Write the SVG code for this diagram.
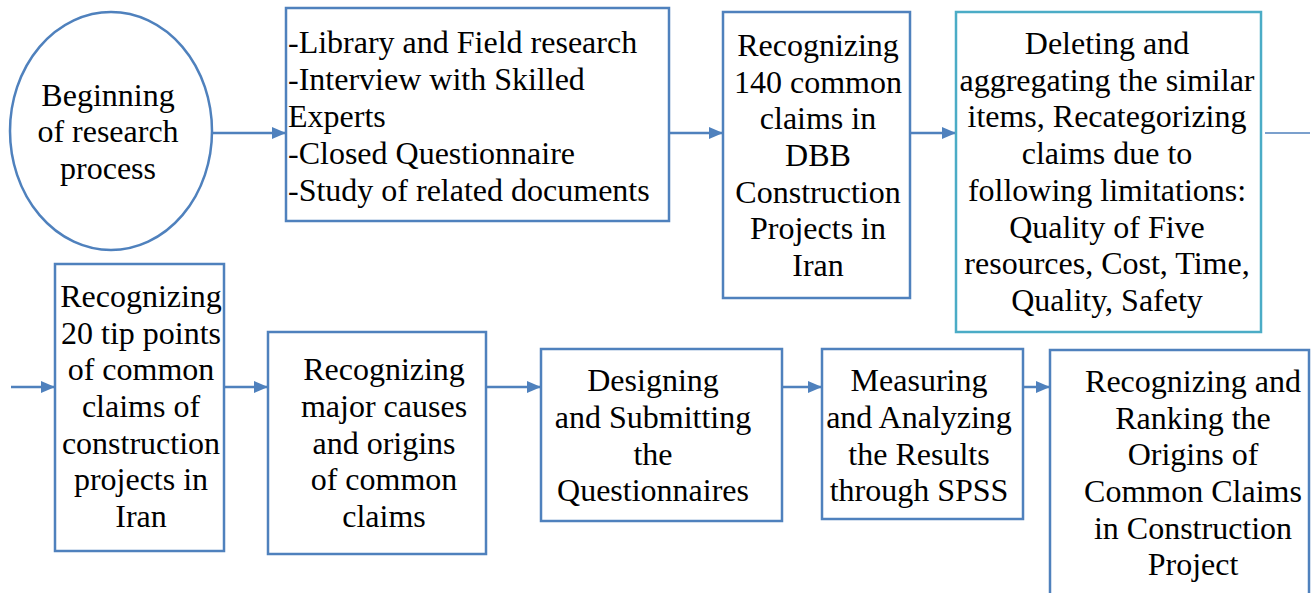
<svg xmlns="http://www.w3.org/2000/svg" width="1316" height="593" viewBox="0 0 1316 593">
  <style>
    .box { fill: #ffffff; stroke: #4f81bd; stroke-width: 2.5; }
    .box-alt { fill: #ffffff; stroke: #4bacc6; stroke-width: 2.5; }
    .mid { text-anchor: middle; }
    .edge { stroke: #4f81bd; stroke-width: 2.5; fill: none; }
    .edge-thin { stroke: #4f81bd; stroke-width: 1.5; fill: none; }
  </style>
  <defs>
    <marker id="arrow" markerWidth="14" markerHeight="12" refX="14" refY="6" orient="auto" markerUnits="userSpaceOnUse">
      <path d="M0,0 L14,6 L0,12 Z" fill="#4f81bd"/>
    </marker>
  </defs>

  <rect width="1316" height="593" fill="#ffffff"/>

  <!-- connectors -->
  <g id="connectors">
    <line class="edge" x1="213" y1="133" x2="286" y2="133" marker-end="url(#arrow)"/>
    <line class="edge" x1="670" y1="133" x2="723" y2="133" marker-end="url(#arrow)"/>
    <line class="edge" x1="911" y1="133" x2="956" y2="133" marker-end="url(#arrow)"/>
    <line class="edge-thin" x1="1265" y1="133" x2="1310" y2="133"/>
    <line class="edge" x1="11" y1="387" x2="55" y2="387" marker-end="url(#arrow)"/>
    <line class="edge" x1="225" y1="387" x2="268" y2="387" marker-end="url(#arrow)"/>
    <line class="edge" x1="487" y1="387" x2="541" y2="387" marker-end="url(#arrow)"/>
    <line class="edge" x1="783" y1="387" x2="822" y2="387" marker-end="url(#arrow)"/>
    <line class="edge" x1="1024" y1="387" x2="1050" y2="387" marker-end="url(#arrow)"/>
  </g>

  <!-- all labels share one serif face -->
  <g font-family="Liberation Serif, serif" font-size="32" fill="#000000">
    <g id="n-start">
      <ellipse class="box" cx="111" cy="131" rx="101" ry="119"/>
      <text class="mid" x="108" y="106">Beginning</text>
      <text class="mid" x="108" y="142">of research</text>
      <text class="mid" x="108" y="179">process</text>
    </g>

    <g id="n-methods">
      <rect class="box" x="286" y="8" width="383" height="213"/>
      <text x="288" y="53">-Library and Field research</text>
      <text x="288" y="90">-Interview with Skilled</text>
      <text x="288" y="127">Experts</text>
      <text x="288" y="164">-Closed Questionnaire</text>
      <text x="288" y="201">-Study of related documents</text>
    </g>

    <g id="n-claims140">
      <rect class="box" x="723" y="12" width="187" height="286"/>
      <text class="mid" x="818" y="56">Recognizing</text>
      <text class="mid" x="818" y="93">140 common</text>
      <text class="mid" x="818" y="129">claims in</text>
      <text class="mid" x="818" y="166">DBB</text>
      <text class="mid" x="818" y="203">Construction</text>
      <text class="mid" x="818" y="239">Projects in</text>
      <text class="mid" x="818" y="276">Iran</text>
    </g>

    <g id="n-recategorize">
      <rect class="box-alt" x="956" y="12" width="305" height="320"/>
      <text class="mid" x="1107" y="54">Deleting and</text>
      <text class="mid" x="1107" y="91">aggregating the similar</text>
      <text class="mid" x="1107" y="127">items, Recategorizing</text>
      <text class="mid" x="1107" y="164">claims due to</text>
      <text class="mid" x="1107" y="201">following limitations:</text>
      <text class="mid" x="1107" y="238">Quality of Five</text>
      <text class="mid" x="1107" y="274">resources, Cost, Time,</text>
      <text class="mid" x="1107" y="311">Quality, Safety</text>
    </g>

    <g id="n-tippoints">
      <rect class="box" x="55" y="264" width="169" height="287"/>
      <text class="mid" x="141" y="307">Recognizing</text>
      <text class="mid" x="141" y="344">20 tip points</text>
      <text class="mid" x="141" y="380">of common</text>
      <text class="mid" x="141" y="417">claims of</text>
      <text class="mid" x="141" y="454">construction</text>
      <text class="mid" x="141" y="490">projects in</text>
      <text class="mid" x="141" y="527">Iran</text>
    </g>

    <g id="n-causes">
      <rect class="box" x="268" y="332" width="218" height="222"/>
      <text class="mid" x="384" y="380">Recognizing</text>
      <text class="mid" x="384" y="417">major causes</text>
      <text class="mid" x="384" y="454">and origins</text>
      <text class="mid" x="384" y="490">of common</text>
      <text class="mid" x="384" y="527">claims</text>
    </g>

    <g id="n-questionnaire">
      <rect class="box" x="541" y="349" width="241" height="172"/>
      <text class="mid" x="653" y="391">Designing</text>
      <text class="mid" x="653" y="428">and Submitting</text>
      <text class="mid" x="653" y="465">the</text>
      <text class="mid" x="653" y="501">Questionnaires</text>
    </g>

    <g id="n-spss">
      <rect class="box" x="822" y="349" width="201" height="170"/>
      <text class="mid" x="919" y="391">Measuring</text>
      <text class="mid" x="919" y="428">and Analyzing</text>
      <text class="mid" x="919" y="465">the Results</text>
      <text class="mid" x="919" y="501">through SPSS</text>
    </g>

    <g id="n-ranking">
      <rect class="box" x="1050" y="350" width="259" height="260"/>
      <text class="mid" x="1193" y="392">Recognizing and</text>
      <text class="mid" x="1193" y="429">Ranking the</text>
      <text class="mid" x="1193" y="465">Origins of</text>
      <text class="mid" x="1193" y="502">Common Claims</text>
      <text class="mid" x="1193" y="539">in Construction</text>
      <text class="mid" x="1193" y="575">Project</text>
    </g>
  </g>
</svg>
